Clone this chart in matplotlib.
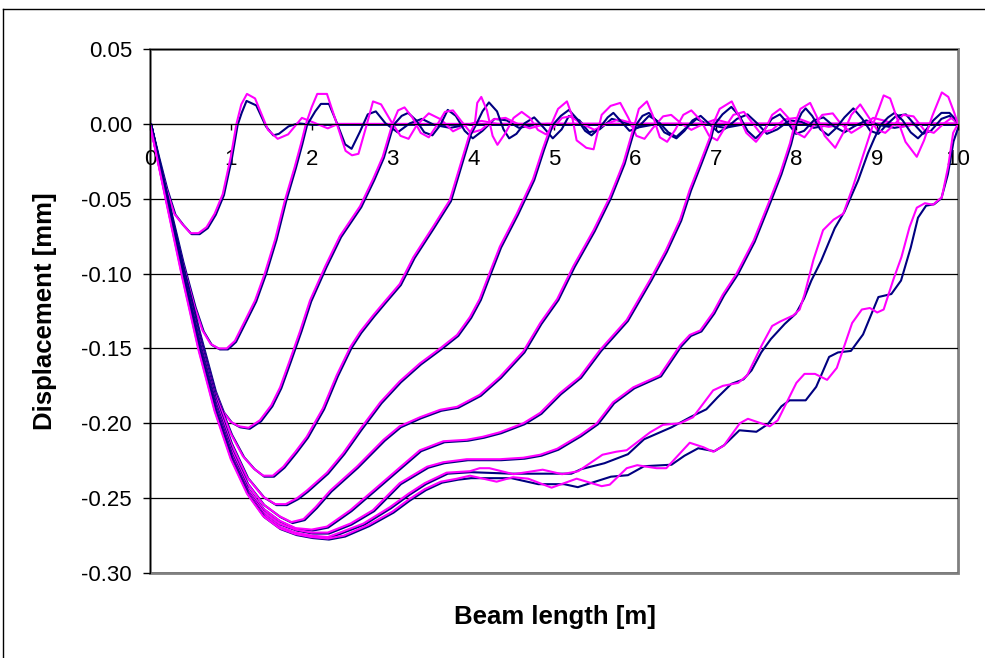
import matplotlib
matplotlib.use('Agg')
import matplotlib.pyplot as plt
import matplotlib.transforms as mtransforms
from matplotlib.patches import Rectangle
from matplotlib.lines import Line2D

plt.rcParams['font.family'] = ['Liberation Sans', 'DejaVu Sans']

NAVY = '#000080'
MAGENTA = '#FF00FF'

# beam deflection lines, (x [m], y [mm])
# "body" is the part both runs share, then each run continues on its own
c1_body = [(0, 0), (0.1, -0.022), (0.2, -0.043), (0.3, -0.060), (0.4, -0.067), (0.5, -0.073),
           (0.6, -0.073), (0.7, -0.069), (0.8, -0.060), (0.9, -0.047), (1.0, -0.022), (1.07, 0.0)]
c1_navy = [(1.12, 0.008), (1.18, 0.016), (1.3, 0.013), (1.42, -0.001), (1.51, -0.007), (1.58, -0.006),
           (1.7, -0.001), (1.82, 0.001), (2.0, 0.0), (10.0, 0.0)]
c1_mag = [(1.13, 0.013), (1.2, 0.020), (1.3, 0.017), (1.46, -0.004), (1.58, -0.010), (1.71, -0.007),
          (1.88, 0.004), (2.02, 0.001), (2.2, -0.003), (2.33, 0.0), (10.0, 0.0)]

c2_body = [(0, 0), (0.2, -0.047), (0.4, -0.092), (0.55, -0.122), (0.65, -0.138), (0.75, -0.147),
           (0.85, -0.150), (0.95, -0.150), (1.05, -0.145), (1.18, -0.131), (1.3, -0.118), (1.42, -0.100),
           (1.55, -0.077), (1.67, -0.051), (1.79, -0.029), (1.87, -0.013), (1.93, 0.0)]
c2_navy = [(2.03, 0.009), (2.1, 0.014), (2.2, 0.014), (2.3, 0.001), (2.4, -0.013), (2.48, -0.016),
           (2.58, -0.005), (2.68, 0.007), (2.78, 0.009), (2.9, 0.001), (3.05, -0.005), (3.2, 0.001),
           (3.35, 0.004), (3.5, 0.0), (3.7, -0.002), (3.9, 0.0), (10.0, 0.0)]
c2_mag = [(2.0, 0.011), (2.07, 0.020), (2.19, 0.020), (2.3, 0.002), (2.42, -0.018), (2.5, -0.021),
          (2.58, -0.020), (2.68, -0.001), (2.76, 0.015), (2.86, 0.013), (2.98, 0.002), (3.1, -0.008),
          (3.2, -0.010), (3.3, -0.001), (3.45, 0.007), (3.6, 0.003), (3.75, -0.005), (3.9, -0.001),
          (4.1, 0.002), (4.3, 0.0), (10.0, 0.0)]

c3_body = [(0, 0), (0.2, -0.048), (0.4, -0.095), (0.6, -0.138), (0.8, -0.178), (0.9, -0.192),
           (1.0, -0.199), (1.1, -0.202), (1.22, -0.203), (1.36, -0.198), (1.5, -0.188), (1.61, -0.176),
           (1.73, -0.158), (1.86, -0.138), (1.98, -0.118), (2.17, -0.095), (2.35, -0.075), (2.6, -0.055),
           (2.76, -0.037), (2.88, -0.022), (3.0, 0.0)]
c3_navy = [(3.1, 0.006), (3.18, 0.008), (3.28, 0.003), (3.38, -0.005), (3.48, -0.007), (3.58, 0.0),
           (3.67, 0.010), (3.77, 0.006), (3.88, -0.004), (3.98, -0.009), (4.1, -0.004), (4.25, 0.004),
           (4.4, 0.003), (4.55, -0.002), (4.75, 0.0), (10.0, 0.0)]
c3_mag = [(3.07, 0.009), (3.15, 0.011), (3.25, 0.004), (3.35, -0.006), (3.45, -0.009), (3.55, -0.001),
          (3.65, 0.008), (3.75, 0.009), (3.85, 0.002), (3.97, -0.006), (4.1, -0.004), (4.25, 0.003),
          (4.4, 0.004), (4.55, 0.0), (4.7, -0.003), (4.9, 0.0), (10.0, 0.0)]

c4_body = [(0, 0), (0.2, -0.048), (0.4, -0.096), (0.6, -0.140), (0.8, -0.180), (1.0, -0.207),
           (1.15, -0.222), (1.28, -0.230), (1.4, -0.235), (1.52, -0.235), (1.65, -0.229), (1.8, -0.219),
           (1.94, -0.209), (2.14, -0.190), (2.31, -0.168), (2.48, -0.149), (2.6, -0.139), (2.76, -0.128),
           (2.9, -0.119), (3.09, -0.107), (3.26, -0.089), (3.5, -0.069), (3.71, -0.051), (3.86, -0.024),
           (3.96, -0.006), (4.02, 0.0)]
c4_navy = [(4.1, 0.009), (4.18, 0.015), (4.28, 0.009), (4.36, -0.003), (4.43, -0.009), (4.52, -0.006),
           (4.62, 0.001), (4.74, 0.005), (4.86, -0.002), (4.97, -0.009), (5.08, -0.003), (5.17, 0.006),
           (5.3, 0.003), (5.42, -0.005), (5.55, -0.003), (5.7, 0.004), (5.85, 0.002), (6.0, -0.002),
           (6.2, 0.0), (10.0, 0.0)]
c4_mag = [(4.05, 0.014), (4.1, 0.018), (4.17, 0.009), (4.24, -0.008), (4.3, -0.014), (4.4, -0.006),
          (4.5, 0.004), (4.6, 0.008), (4.7, 0.004), (4.8, -0.004), (4.9, -0.007), (5.0, -0.002),
          (5.1, 0.004), (5.2, 0.005), (5.35, 0.0), (5.5, -0.004), (5.65, 0.0), (5.8, 0.003),
          (6.0, 0.0), (10.0, 0.0)]

c5_body = [(0, 0), (0.2, -0.049), (0.4, -0.097), (0.6, -0.142), (0.8, -0.183), (1.0, -0.213),
           (1.2, -0.236), (1.4, -0.249), (1.55, -0.254), (1.68, -0.254), (1.82, -0.250), (1.94, -0.245),
           (2.19, -0.233), (2.39, -0.220), (2.6, -0.204), (2.85, -0.186), (3.09, -0.172), (3.34, -0.160),
           (3.59, -0.150), (3.8, -0.141), (3.96, -0.129), (4.08, -0.117), (4.2, -0.100), (4.33, -0.082),
           (4.54, -0.060), (4.74, -0.037), (4.86, -0.017), (4.97, 0.0)]
c5_navy = [(5.07, 0.006), (5.17, 0.010), (5.27, 0.004), (5.37, -0.004), (5.45, -0.007), (5.55, -0.002),
           (5.65, 0.005), (5.72, 0.008), (5.82, 0.002), (5.92, -0.004), (6.02, -0.002), (6.16, 0.006),
           (6.28, 0.002), (6.4, -0.005), (6.5, -0.008), (6.62, -0.002), (6.75, 0.004), (6.9, 0.0),
           (7.1, -0.002), (7.3, 0.0), (10.0, 0.0)]
c5_mag = [(5.05, 0.010), (5.16, 0.015), (5.22, 0.006), (5.28, -0.011), (5.4, -0.016), (5.49, -0.017),
          (5.59, 0.006), (5.7, 0.012), (5.82, 0.014), (5.92, 0.004), (6.02, -0.008), (6.12, -0.010),
          (6.22, -0.003), (6.35, 0.005), (6.45, 0.006), (6.58, 0.0), (6.7, -0.004), (6.85, 0.0),
          (7.0, 0.003), (7.2, 0.0), (10.0, 0.0)]

c6_body = [(0, 0), (0.2, -0.050), (0.4, -0.099), (0.6, -0.145), (0.8, -0.186), (1.0, -0.217),
           (1.2, -0.240), (1.4, -0.254), (1.6, -0.262), (1.75, -0.266), (1.9, -0.264), (2.05, -0.256),
           (2.23, -0.245), (2.56, -0.229), (2.89, -0.211), (3.09, -0.202), (3.34, -0.196), (3.59, -0.191),
           (3.8, -0.189), (4.08, -0.181), (4.33, -0.169), (4.62, -0.152), (4.83, -0.133), (5.04, -0.117),
           (5.24, -0.095), (5.49, -0.071), (5.69, -0.049), (5.86, -0.026), (5.94, -0.011), (6.0, 0.0)]
c6_navy = [(6.08, 0.006), (6.16, 0.008), (6.25, 0.003), (6.35, -0.005), (6.5, -0.009), (6.6, -0.004),
           (6.7, 0.003), (6.8, 0.006), (6.92, 0.0), (7.02, -0.005), (7.12, -0.002), (7.25, 0.004),
           (7.38, 0.007), (7.5, 0.001), (7.62, -0.006), (7.75, -0.003), (7.9, 0.003), (8.05, 0.002),
           (8.2, -0.002), (8.4, 0.0), (10.0, 0.0)]
c6_mag = [(6.05, 0.010), (6.15, 0.015), (6.22, 0.006), (6.31, -0.009), (6.4, -0.012), (6.5, -0.004),
          (6.6, 0.006), (6.7, 0.009), (6.82, 0.002), (6.92, -0.008), (7.02, -0.011), (7.12, -0.002),
          (7.22, 0.006), (7.35, 0.008), (7.45, 0.001), (7.55, -0.006), (7.7, -0.004), (7.85, 0.003),
          (8.0, 0.004), (8.2, 0.0), (8.4, -0.002), (8.6, 0.0), (10.0, 0.0)]

c7_body = [(0, 0), (0.2, -0.050), (0.4, -0.100), (0.6, -0.147), (0.8, -0.188), (1.0, -0.220),
           (1.2, -0.243), (1.4, -0.257), (1.6, -0.265), (1.8, -0.270), (2.0, -0.271), (2.19, -0.269),
           (2.48, -0.258), (2.76, -0.245), (3.06, -0.231), (3.34, -0.218), (3.63, -0.212), (3.92, -0.211),
           (4.12, -0.209), (4.33, -0.206), (4.62, -0.200), (4.83, -0.193), (5.07, -0.180), (5.32, -0.169),
           (5.57, -0.151), (5.9, -0.131), (6.19, -0.104), (6.38, -0.085), (6.56, -0.064), (6.68, -0.044),
           (6.81, -0.026), (6.93, -0.009), (6.97, 0.0)]
c7_navy = [(7.07, 0.007), (7.18, 0.012), (7.28, 0.006), (7.38, -0.004), (7.48, -0.009), (7.58, -0.004),
           (7.68, 0.004), (7.78, 0.007), (7.88, 0.001), (7.98, -0.006), (8.08, -0.004), (8.2, 0.003),
           (8.32, 0.005), (8.45, -0.001), (8.58, -0.005), (8.7, -0.001), (8.85, 0.003), (9.0, 0.0),
           (9.2, -0.002), (9.4, 0.0), (10.0, 0.0)]
c7_mag = [(7.05, 0.010), (7.2, 0.015), (7.28, 0.006), (7.38, -0.006), (7.5, -0.012), (7.6, -0.005),
          (7.7, 0.006), (7.8, 0.010), (7.9, 0.004), (8.0, -0.006), (8.1, -0.009), (8.2, -0.002),
          (8.32, 0.006), (8.45, 0.007), (8.55, 0.0), (8.68, -0.006), (8.8, -0.002), (8.95, 0.004),
          (9.1, 0.002), (9.3, -0.002), (9.5, 0.0), (10.0, 0.0)]

c8_body = [(0, 0), (0.2, -0.051), (0.4, -0.101), (0.6, -0.149), (0.8, -0.190), (1.0, -0.222),
           (1.2, -0.245), (1.4, -0.259), (1.6, -0.267), (1.8, -0.271), (2.0, -0.273), (2.2, -0.273),
           (2.48, -0.267), (2.76, -0.258), (3.09, -0.240), (3.43, -0.229), (3.63, -0.226), (3.92, -0.224),
           (4.33, -0.224), (4.62, -0.223), (4.83, -0.221), (5.04, -0.217), (5.32, -0.208), (5.53, -0.200),
           (5.73, -0.186), (5.98, -0.176), (6.31, -0.168), (6.56, -0.148), (6.68, -0.141), (6.81, -0.138),
           (6.97, -0.126), (7.09, -0.114), (7.26, -0.100), (7.47, -0.078), (7.67, -0.051), (7.8, -0.033),
           (7.92, -0.013), (7.98, 0.0)]
c8_navy = [(8.05, 0.008), (8.1, 0.011), (8.18, 0.006), (8.28, -0.003), (8.38, -0.007), (8.48, -0.002),
           (8.58, 0.005), (8.69, 0.011), (8.8, 0.004), (8.9, -0.004), (9.0, -0.006), (9.1, 0.0),
           (9.22, 0.006), (9.34, 0.007), (9.45, 0.0), (9.55, -0.006), (9.65, -0.004), (9.78, 0.004),
           (9.88, 0.006), (10.0, 0.0)]
c8_mag = [(8.05, 0.010), (8.17, 0.014), (8.25, 0.005), (8.35, -0.008), (8.48, -0.016), (8.58, -0.006),
          (8.68, 0.006), (8.79, 0.013), (8.9, 0.004), (9.0, -0.004), (9.1, -0.006), (9.22, 0.0),
          (9.32, 0.006), (9.45, 0.005), (9.58, -0.004), (9.7, -0.006), (9.82, 0.0), (9.92, 0.004),
          (10.0, 0.0)]

c9_body = [(0, 0), (0.2, -0.051), (0.4, -0.102), (0.6, -0.150), (0.8, -0.191), (1.0, -0.223),
           (1.2, -0.246), (1.4, -0.261), (1.6, -0.269), (1.8, -0.273), (2.0, -0.275), (2.2, -0.276),
           (2.35, -0.273), (2.64, -0.267), (2.97, -0.256), (3.2, -0.247), (3.4, -0.240), (3.67, -0.233),
           (3.96, -0.232)]
c9_navy = [(4.46, -0.233), (5.2, -0.233), (5.32, -0.230), (5.61, -0.226), (5.9, -0.220), (6.1, -0.210),
           (6.44, -0.202), (6.68, -0.195), (6.87, -0.190), (7.01, -0.182), (7.18, -0.173), (7.33, -0.170),
           (7.43, -0.164), (7.55, -0.152), (7.67, -0.143), (7.84, -0.133), (7.98, -0.126), (8.08, -0.116),
           (8.17, -0.104), (8.29, -0.091), (8.46, -0.069), (8.58, -0.058), (8.75, -0.037), (8.87, -0.019),
           (8.95, -0.009), (9.03, 0.0), (9.12, 0.005), (9.2, 0.008), (9.3, 0.003), (9.4, -0.005),
           (9.49, -0.009), (9.58, -0.004), (9.68, 0.003), (9.78, 0.008), (9.88, 0.008), (9.95, 0.004),
           (10.0, 0.0)]
c9_mag = [(4.08, -0.230), (4.2, -0.230), (4.5, -0.234), (4.86, -0.231), (5.1, -0.234), (5.3, -0.232),
          (5.6, -0.221), (5.77, -0.219), (5.9, -0.218), (6.19, -0.206), (6.35, -0.201), (6.56, -0.200),
          (6.72, -0.196), (6.97, -0.178), (7.09, -0.175), (7.28, -0.173), (7.39, -0.168), (7.57, -0.148),
          (7.7, -0.135), (7.8, -0.132), (7.96, -0.128), (8.04, -0.124), (8.1, -0.114), (8.21, -0.091),
          (8.33, -0.071), (8.46, -0.064), (8.58, -0.060), (8.7, -0.042), (8.85, -0.017), (8.91, -0.007),
          (8.97, 0.003), (9.02, 0.010), (9.08, 0.019), (9.16, 0.017), (9.25, 0.003), (9.35, -0.012),
          (9.49, -0.022), (9.58, -0.011), (9.68, 0.005), (9.8, 0.021), (9.88, 0.018), (9.95, 0.008),
          (10.0, 0.0)]

c10_body = [(0, 0), (0.2, -0.052), (0.4, -0.103), (0.6, -0.151), (0.8, -0.192), (1.0, -0.224),
            (1.2, -0.247), (1.4, -0.262), (1.6, -0.270), (1.8, -0.274), (2.0, -0.276), (2.2, -0.277),
            (2.4, -0.275), (2.7, -0.268), (3.0, -0.259), (3.2, -0.251), (3.4, -0.244), (3.6, -0.239),
            (3.8, -0.237)]
c10_navy = [(3.96, -0.236), (4.46, -0.236), (4.79, -0.240), (5.11, -0.240), (5.28, -0.242), (5.69, -0.235),
            (5.9, -0.234), (6.1, -0.228), (6.44, -0.227), (6.6, -0.221), (6.77, -0.216), (6.97, -0.218),
            (7.09, -0.214), (7.28, -0.204), (7.49, -0.205), (7.63, -0.200), (7.8, -0.188), (7.9, -0.184),
            (8.1, -0.184), (8.23, -0.175), (8.39, -0.155), (8.5, -0.152), (8.66, -0.151), (8.81, -0.140),
            (9.0, -0.115), (9.16, -0.113), (9.28, -0.104), (9.4, -0.082), (9.49, -0.062), (9.59, -0.054),
            (9.69, -0.053), (9.78, -0.049), (9.86, -0.033), (9.93, -0.011), (10.0, 0.0)]
c10_mag = [(3.96, -0.235), (4.29, -0.239), (4.49, -0.236), (4.68, -0.237), (4.97, -0.243), (5.28, -0.237),
           (5.59, -0.242), (5.69, -0.241), (5.9, -0.230), (6.03, -0.228), (6.27, -0.230), (6.39, -0.230),
           (6.56, -0.220), (6.68, -0.213), (6.85, -0.216), (6.97, -0.219), (7.1, -0.215), (7.3, -0.200),
           (7.4, -0.197), (7.67, -0.202), (7.77, -0.198), (8.0, -0.173), (8.1, -0.167), (8.23, -0.167),
           (8.38, -0.171), (8.5, -0.163), (8.69, -0.133), (8.81, -0.124), (8.91, -0.123), (9.0, -0.126),
           (9.08, -0.124), (9.2, -0.104), (9.3, -0.089), (9.4, -0.069), (9.49, -0.056), (9.59, -0.053),
           (9.69, -0.054), (9.8, -0.049), (9.88, -0.028), (9.94, -0.006), (10.0, 0.0)]

x_ticks = [0, 1, 2, 3, 4, 5, 6, 7, 8, 9, 10]
y_ticks = [0.05, 0.0, -0.05, -0.10, -0.15, -0.20, -0.25, -0.30]

curves = [
    (c1_body, c1_navy, c1_mag), (c2_body, c2_navy, c2_mag), (c3_body, c3_navy, c3_mag),
    (c4_body, c4_navy, c4_mag), (c5_body, c5_navy, c5_mag), (c6_body, c6_navy, c6_mag),
    (c7_body, c7_navy, c7_mag), (c8_body, c8_navy, c8_mag), (c9_body, c9_navy, c9_mag),
    (c10_body, c10_navy, c10_mag),
]

fig = plt.figure(figsize=(9.85, 6.58), dpi=100)
ax = fig.add_axes([150 / 985, 1 - 573 / 658, 808 / 985, 524 / 658])

# navy run sits a hair right/below the magenta one in the original
shifted = mtransforms.offset_copy(ax.transData, x=1.2, y=-1.0, units='dots')

for body, nav, mag in curves:
    pts = body + nav
    ax.plot([p[0] for p in pts], [p[1] for p in pts], color=NAVY, lw=1.5, transform=shifted)
    pts = body + mag
    ax.plot([p[0] for p in pts], [p[1] for p in pts], color=MAGENTA, lw=1.5)

ax.set_xlim(0, 10)
ax.set_ylim(-0.30, 0.05)
ax.set_xticks(x_ticks)
ax.set_xticklabels([str(v) for v in x_ticks])
ax.set_yticks(y_ticks)
ax.set_yticklabels(['%.2f' % v for v in y_ticks])

ax.spines['bottom'].set_position(('data', 0))
ax.spines['bottom'].set_color('black')
ax.spines['left'].set_color('black')
ax.spines['top'].set_visible(False)
ax.spines['right'].set_visible(False)
ax.tick_params(axis='y', direction='out', length=5, width=1, labelsize=16, pad=8)
ax.tick_params(axis='x', direction='out', length=4, width=1, labelsize=16, pad=14)

ax.yaxis.grid(True, color='black', lw=0.9)
ax.set_axisbelow(True)

# grey plot-area frame (top, right, bottom)
ax.add_patch(Rectangle((0, 0), 1, 1, transform=ax.transAxes, fill=False,
                       edgecolor='#808080', lw=2, clip_on=False, zorder=0.5))

fig.text(45 / 985, 1 - 311 / 658, 'Displacement [mm]', rotation=90, ha='center', va='center',
         fontsize=18.5, fontweight='bold')
fig.text(555 / 985, 1 - 617 / 658, 'Beam length [m]', ha='center', va='center',
         fontsize=18.5, fontweight='bold')

# outer chart border
fig.add_artist(Line2D([3 / 985, 3 / 985], [0, 1 - 9 / 658], transform=fig.transFigure, color='black', lw=1))
fig.add_artist(Line2D([3 / 985, 1], [1 - 9 / 658, 1 - 9 / 658], transform=fig.transFigure, color='black', lw=1))

fig.savefig('out.png', dpi=100)
